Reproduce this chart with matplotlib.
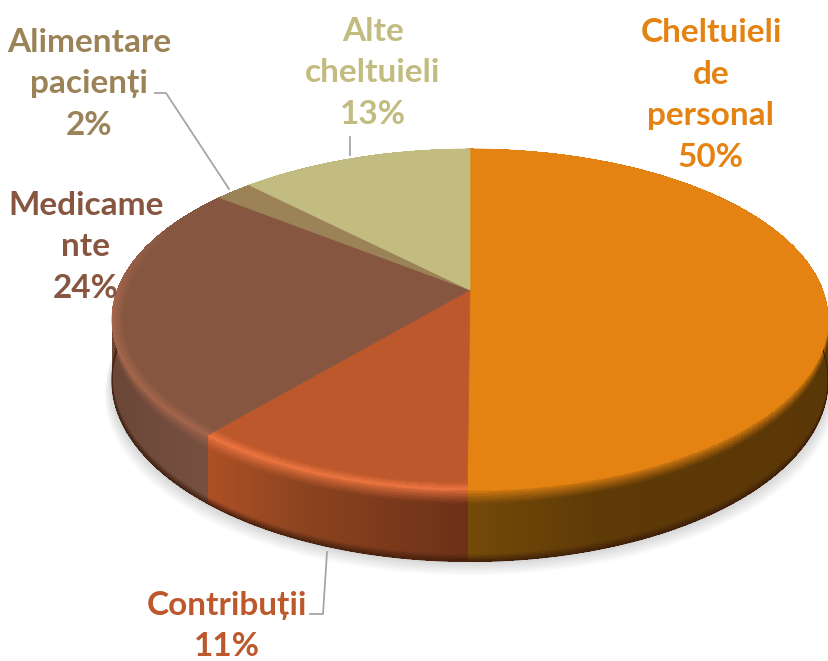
import numpy as np
import matplotlib
matplotlib.use("Agg")
import matplotlib.pyplot as plt
from matplotlib.collections import PolyCollection
from matplotlib.colors import to_rgb

# data
labels = ["Cheltuieli\nde\npersonal", "Contribuții", "Medicame\nnte",
          "Alimentare\npacienți", "Alte\ncheltuieli"]
percents = [50, 11, 24, 2, 13]   # as printed
shares = [50.1, 11.1, 24.4, 2.0, 12.4]   # slice sizes
colors = ["#E48312", "#BD582C", "#865640", "#9B8357", "#C2BC80"]
label_pos = [(711, 95), (227, 626), (86, 247), (89, 84), (373, 73)]

# side wall colour along x, and colour of the lit top edge
wall_stops = [
    [(468, "#744a08"), (600, "#5e3a07"), (829, "#5a3706")],
    [(208, "#ae5026"), (300, "#8c4420"), (468, "#6c3017")],
    [(112, "#6b4636"), (208, "#775041")],
    [(112, "#6b5a3c"), (300, "#6b5a3c")],
    [(112, "#8a8559"), (470, "#8a8559")],
]
rim_colors = ["#E48312", "#EC7440", "#A4654B", "#9B8357", "#C2BC80"]

# projection of the pie disc onto the picture (pixels)
cx, cy = 470, 290
kx, ky, persp = 352.6, 165.4, 0.173
depth = 59


def disc(theta, s=1.0):
    u, v = s * np.sin(theta), s * np.cos(theta)
    w = 1 + persp * v
    return cx + kx * u / w, cy - ky * v / w


def wall_drop(theta):
    return depth / (1 + persp * np.cos(theta))


def mix(a, b, t):
    return tuple(np.array(a) * (1 - t) + np.array(b) * t)


def wall_color(stops, x):
    xs = [p[0] for p in stops]
    rgb = np.array([to_rgb(p[1]) for p in stops])
    return tuple(np.interp(x, xs, rgb[:, i]) for i in range(3))


def rim_strength(theta):
    return np.clip((0.45 - np.cos(theta)) / 0.5, 0, 1)


plt.rcParams["font.family"] = ["Lato", "DejaVu Sans"]
fig = plt.figure(figsize=(8.29, 6.61), dpi=100)
ax = fig.add_axes([0, 0, 1, 1])
ax.set_xlim(0, 829)
ax.set_ylim(661, 0)
ax.axis("off")

edges = np.radians(np.cumsum([0] + shares) * 3.6)

# soft shadow under the pie
t = np.linspace(0, 2 * np.pi, 361)
x, y = disc(t)
y = y + wall_drop(t)
for off in range(14, 0, -1):
    scale = 1 + off * 0.0015
    ax.fill(cx + (x - cx) * scale, y + off, color="k", alpha=0.012, lw=0, zorder=1)

# side walls
band = 0.2
quads, fc = [], []
tops = np.r_[np.linspace(0, band, 10), np.linspace(0.9, 1.0, 6)]
for i in range(len(shares)):
    n = max(int(shares[i] * 12), 8)
    t = np.linspace(edges[i], edges[i + 1], n + 1)
    rim = to_rgb(rim_colors[i])
    for a, b in zip(t[:-1], t[1:]):
        xa, ya = disc(a)
        xb, yb = disc(b)
        da, db = wall_drop(a), wall_drop(b)
        base = wall_color(wall_stops[i], (xa + xb) / 2)
        st = rim_strength((a + b) / 2)
        for p, q in zip(tops[:-1], tops[1:]):
            quads.append([(xa, ya + p * da), (xb, yb + p * db),
                          (xb, yb + q * db), (xa, ya + q * da)])
            m = (p + q) / 2
            if m < band:
                fc.append(mix(mix(to_rgb(colors[i]), rim, st), base, (m / band) ** 0.8))
            elif m > 0.9:
                fc.append(mix(base, (0.22, 0.1, 0.04), (m - 0.9) / 0.1 * 0.75))
            else:
                fc.append(base)
ax.add_collection(PolyCollection(quads, facecolors=fc, edgecolors="none", linewidths=0,
                                 antialiased=False, zorder=2))

# smooth outer edge of the walls
for i in range(len(shares)):
    t = np.linspace(edges[i], edges[i + 1], int(shares[i] * 6) + 6)
    x, y = disc(t)
    edge_col = mix(wall_color(wall_stops[i], x.mean()), (0.22, 0.1, 0.04), 0.75)
    ax.plot(x, y + wall_drop(t), color=edge_col, lw=0.9, zorder=3)

# top faces
for i in range(len(shares)):
    t = np.linspace(edges[i], edges[i + 1], int(shares[i] * 4) + 6)
    x, y = disc(t)
    ax.fill(np.r_[cx, x], np.r_[cy, y], color=colors[i], lw=0.5, zorder=4)

# lit band along the top edge
quads, fc = [], []
rings = np.linspace(0.97, 1.0, 8)
for i in range(len(shares)):
    t = np.linspace(edges[i], edges[i + 1], int(shares[i] * 12) + 8)
    top = to_rgb(colors[i])
    rim = to_rgb(rim_colors[i])
    for a, b in zip(t[:-1], t[1:]):
        st = rim_strength((a + b) / 2)
        if st == 0:
            continue
        for p, q in zip(rings[:-1], rings[1:]):
            xa, ya = disc(a, p)
            xb, yb = disc(b, p)
            xc, yc = disc(b, q)
            xd, yd = disc(a, q)
            quads.append([(xa, ya), (xb, yb), (xc, yc), (xd, yd)])
            f = ((p + q) / 2 - rings[0]) / (rings[-1] - rings[0])
            fc.append(mix(top, rim, f * st))
ax.add_collection(PolyCollection(quads, facecolors=fc, edgecolors="none", linewidths=0,
                                 antialiased=False, zorder=5))

# leader lines
ax.plot([155, 166, 229], [93, 93, 189], color="#a6a6a6", lw=1.3, zorder=6)
ax.plot([350, 350], [137, 155], color="#a6a6a6", lw=1.3, zorder=6)
ax.plot([310, 323, 327], [614, 614, 552], color="#a6a6a6", lw=1.3, zorder=6)

# labels
for name, val, col, pos in zip(labels, percents, colors, label_pos):
    ax.text(pos[0], pos[1], "%s\n%d%%" % (name, val), color=col, fontsize=24,
            fontweight="bold", ha="center", va="center", linespacing=1.53, zorder=7)

fig.savefig("out.png", dpi=100)
